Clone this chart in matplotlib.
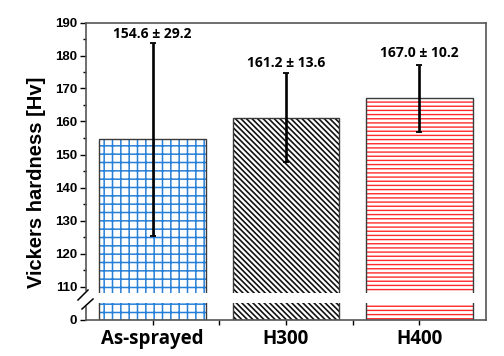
import numpy as np
import matplotlib
matplotlib.use("Agg")
import matplotlib.pyplot as plt

# ---- data ----
categories = ["As-sprayed", "H300", "H400"]
hardness = [154.6, 161.2, 167.0]
errors = [29.2, 13.6, 10.2]
labels = ["154.6 ± 29.2", "161.2 ± 13.6", "167.0 ± 10.2"]
y_major = [0, 110, 120, 130, 140, 150, 160, 170, 180, 190]
y_minor = [115, 125, 135, 145, 155, 165, 175, 185]

hatches = ["++", "\\" * 6, "----"]
hatch_colors = ["#2680d8", "#111111", "#ff2a2a"]
hatch_lws = [1.1, 1.2, 1.0]
label_pads = [3.6, 4.3, 5.8]  # points above error-bar top

# ---- broken axis scale ----
LOW_TOP = 5.0      # top of lower segment
HIGH_BOT = 108.0   # bottom of upper segment
GAP_TOP = 8.0      # display coordinate where the upper segment starts
SHIFT = HIGH_BOT - GAP_TOP


def fwd(v):
    v = np.asarray(v, dtype=float)
    mid = LOW_TOP + (v - LOW_TOP) * (GAP_TOP - LOW_TOP) / (HIGH_BOT - LOW_TOP)
    return np.where(v <= LOW_TOP, v, np.where(v >= HIGH_BOT, v - SHIFT, mid))


def inv(d):
    d = np.asarray(d, dtype=float)
    mid = LOW_TOP + (d - LOW_TOP) * (HIGH_BOT - LOW_TOP) / (GAP_TOP - LOW_TOP)
    return np.where(d <= LOW_TOP, d, np.where(d >= GAP_TOP, d + SHIFT, mid))


fig = plt.figure(figsize=(5.04, 3.56), dpi=100)
ax = fig.add_axes([86 / 504, 1 - 319.5 / 356, 400 / 504, 297 / 356])
ax.set_yscale("function", functions=(fwd, inv))

x = np.arange(len(categories))
width = 0.8

for i in range(len(categories)):
    b = ax.bar(x[i], hardness[i], width=width, color="white",
               edgecolor=hatch_colors[i], hatch=hatches[i], linewidth=0,
               zorder=1)
    for p in b:
        if hasattr(p, "set_hatch_linewidth"):
            p.set_hatch_linewidth(hatch_lws[i])
ax.bar(x, hardness, width=width, fill=False, edgecolor="#3a3a3a",
       linewidth=1.0, zorder=1.5)

# white gap of broken axis
ax.axhspan(LOW_TOP, HIGH_BOT, color="white", zorder=2.2, linewidth=0)

ax.errorbar(x, hardness, yerr=errors, fmt="none", ecolor="black",
            elinewidth=1.9, capsize=2.5, capthick=1.3, zorder=3)

for i in range(len(categories)):
    ax.annotate(labels[i], xy=(x[i], hardness[i] + errors[i]),
                xytext=(0, label_pads[i]), textcoords="offset points",
                ha="center", va="baseline", fontsize=10, fontweight="bold",
                family="Open Sans", zorder=4)

ax.set_xlim(-0.5, 2.5)
ax.set_ylim(0, 190)

ax.set_yticks(y_major)
ax.set_yticks(y_minor, minor=True)
ax.set_yticklabels([str(v) for v in y_major], fontsize=9.5, fontweight="bold",
                   family="Liberation Sans")
ax.set_xticks(x)
ax.set_xticks([0.5, 1.5], minor=True)
ax.set_xticklabels(categories, fontsize=13.5, fontweight="bold",
                   family="Open Sans")

ax.tick_params(axis="y", which="major", length=4.3, width=1, pad=2)
ax.tick_params(axis="y", which="minor", length=2.4, width=1)
ax.tick_params(axis="x", which="major", length=3.5, width=1, pad=3)
ax.tick_params(axis="x", which="minor", length=3.5, width=1)

spine_col = "#555555"
for s in ["top", "right", "bottom"]:
    ax.spines[s].set_color(spine_col)
    ax.spines[s].set_linewidth(1.2)
ax.spines["left"].set_visible(False)

# broken left spine
ax.plot([0, 0], [0, 3.8], transform=ax.get_yaxis_transform(), color=spine_col,
        lw=1.2, clip_on=False, zorder=5)
ax.plot([0, 0], [109, 190], transform=ax.get_yaxis_transform(), color=spine_col,
        lw=1.2, clip_on=False, zorder=5)
# break marks
ax.plot([-0.02, 0.005], [0.0657, 0.0993], transform=ax.transAxes,
        color="black", lw=1.1, clip_on=False, zorder=5)
ax.plot([-0.01, 0.0175], [0.0354, 0.069], transform=ax.transAxes,
        color="black", lw=1.1, clip_on=False, zorder=5)

fig.text(37 / 504, 1 - 182 / 356, "Vickers hardness [Hv]", rotation=90,
         ha="center", va="center", fontsize=14.5, fontweight="bold",
         family="Liberation Sans")

fig.savefig("out.png", dpi=100)
